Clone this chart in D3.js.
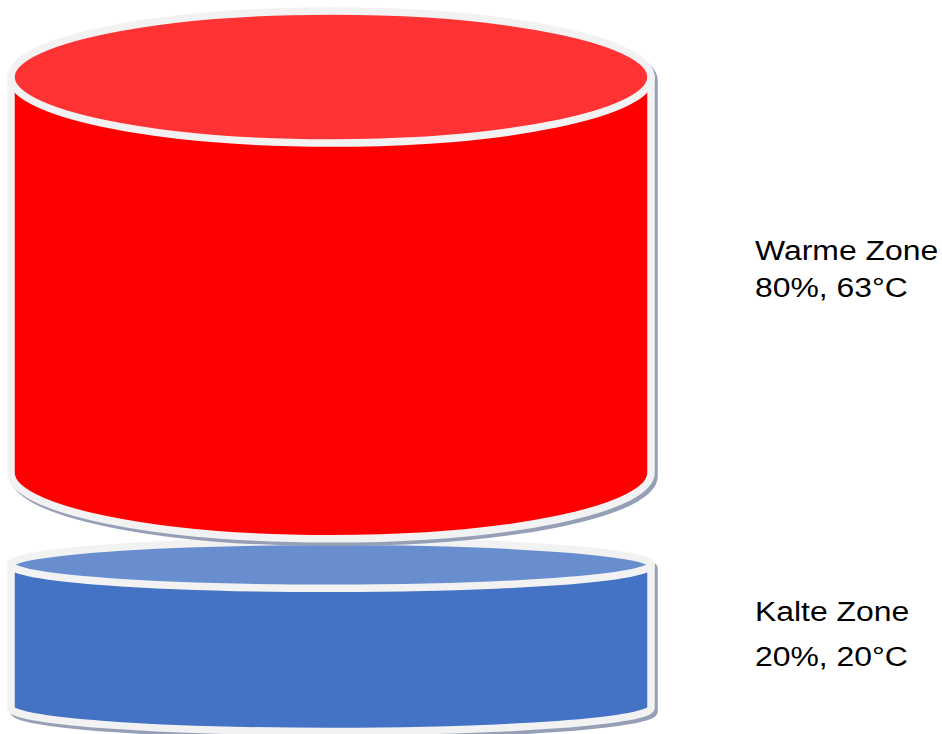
<!DOCTYPE html>
<html>
<head>
<meta charset="utf-8">
<script src="https://cdn.jsdelivr.net/npm/d3@7"></script>
<style>
  body { margin: 0; background: #fff; }
  text { font-family: "Liberation Sans", Arial, sans-serif; fill: #000; }
</style>
</head>
<body>
<div id="chart"></div>
<script>
var zones = ["Warme Zone", "Kalte Zone"];
var shares = [80, 20];      // Anteil in %
var temps = [63, 20];       // Temperatur in °C

(function () {
  var width = 942;
  var height = 734;

  var svg = d3.select("#chart")
    .append("svg")
    .attr("width", width)
    .attr("height", height);

  // styling per zone
  var bodyColor = ["#ff0000", "#4472c4"];
  var topColor = ["#ff3333", "#698ed0"];
  var ryByZone = [66, 23.5];
  var lineGap = [37, 45];

  var cx = 331, rx = 320;
  var edge = "#f2f2f2";

  // body height from share (with a base height)
  var hScale = d3.scaleLinear().domain([0, 100]).range([59, 480]);

  var rows = [];
  var y = 77;
  zones.forEach(function (z, i) {
    var ry = ryByZone[i];
    var h = hScale(shares[i]);
    rows.push({ name: z, share: shares[i], temp: temps[i], top: y, bottom: y + h, ry: ry, i: i });
    if (i < zones.length - 1) y = y + h + ry + ryByZone[i + 1] + 2.5;
  });

  function outline(d) {
    return "M" + (cx - rx) + "," + d.top +
      " A" + rx + "," + d.ry + " 0 0 1 " + (cx + rx) + "," + d.top +
      " L" + (cx + rx) + "," + d.bottom +
      " A" + rx + "," + d.ry + " 0 0 1 " + (cx - rx) + "," + d.bottom + " Z";
  }
  function body(d) {
    return "M" + (cx - rx) + "," + d.top +
      " L" + (cx - rx) + "," + d.bottom +
      " A" + rx + "," + d.ry + " 0 0 0 " + (cx + rx) + "," + d.bottom +
      " L" + (cx + rx) + "," + d.top + " Z";
  }

  // draw lower zone first so the upper one overlaps it
  var cyl = svg.selectAll(".cyl")
    .data(rows.slice().reverse())
    .enter().append("g")
    .attr("class", "cyl");

  cyl.append("path")
    .attr("d", outline)
    .attr("transform", "translate(3,3.5)")
    .attr("fill", "#95a0b6")
    .attr("stroke", "#95a0b6")
    .attr("stroke-width", 7.5);

  cyl.append("path")
    .attr("d", body)
    .attr("fill", function (d) { return bodyColor[d.i]; })
    .attr("stroke", edge)
    .attr("stroke-width", 7.5)
    .attr("stroke-linejoin", "round");

  cyl.append("ellipse")
    .attr("cx", cx)
    .attr("cy", function (d) { return d.top; })
    .attr("rx", rx)
    .attr("ry", function (d) { return d.ry; })
    .attr("fill", function (d) { return topColor[d.i]; })
    .attr("stroke", edge)
    .attr("stroke-width", 7.5);

  // labels
  var lab = svg.selectAll(".lab")
    .data(rows)
    .enter().append("g")
    .attr("class", "lab")
    .attr("transform", function (d) {
      var mid = (d.top + d.bottom) / 2;
      return "translate(755," + (mid - 15) + ")";
    });

  lab.append("text")
    .attr("font-size", 28)
    .attr("transform", "scale(1.14,1)")
    .text(function (d) { return d.name; });

  lab.append("text")
    .attr("font-size", 28)
    .attr("transform", function (d) { return "translate(0," + lineGap[d.i] + ") scale(1.14,1)"; })
    .text(function (d) { return d.share + "%, " + d.temp + "°C"; });
})();
</script>
</body>
</html>
